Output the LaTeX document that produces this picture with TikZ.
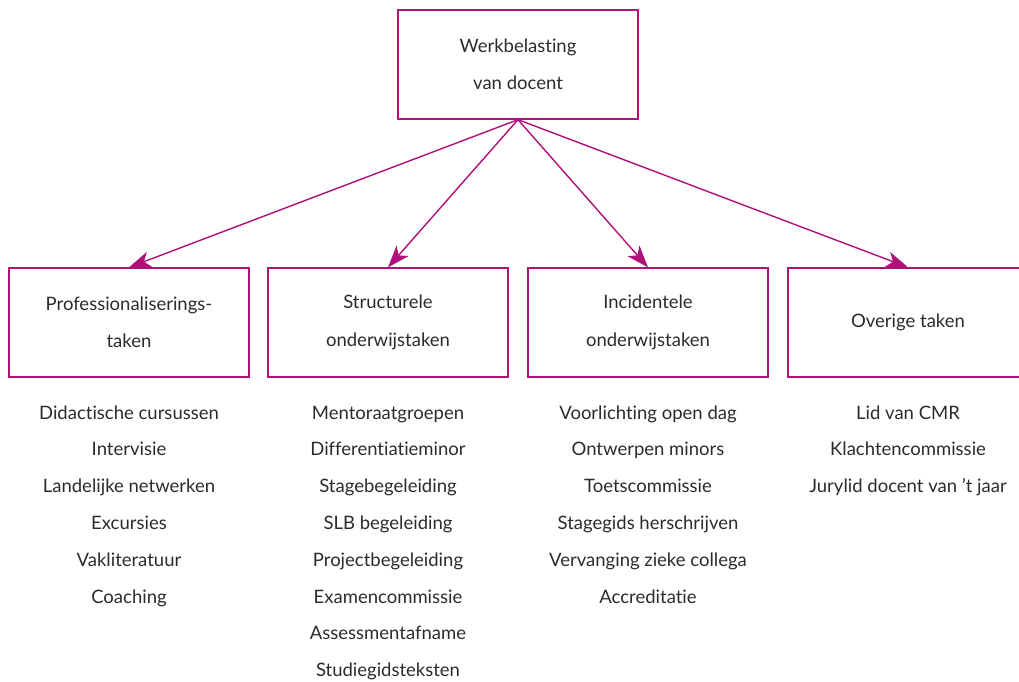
\documentclass[tikz,border=0pt]{standalone}
\usepackage{fontspec}
\setmainfont[Ligatures=NoCommon]{Lato}
\usetikzlibrary{arrows.meta}
\definecolor{mag}{HTML}{B0107A}
\definecolor{txt}{HTML}{2B2B2B}
\begin{document}
\begin{tikzpicture}[x=1pt,y=-1pt,
  box/.style={draw=mag,line width=1.3pt,minimum width=240pt,minimum height=109pt,inner sep=0pt},
  lbl/.style={text=txt,font=\fontsize{18.5}{37.5}\selectfont,align=center},
  item/.style={text=txt,font=\fontsize{18.5}{20}\selectfont,anchor=base},
  arr/.style={draw=mag,line width=1.4pt,-{Stealth[length=22pt,width=16pt,inset=6pt]}}]
\useasboundingbox (0,0) rectangle (1019,682);
\clip (0,0) rectangle (1019,682);
\node[box] (top) at (518,64.5) {};
\node[lbl] at (top) {Werkbelasting\\van docent};
\node[box] (b1) at (129,322.5) {};
\node[box] (b2) at (388,322.5) {};
\node[box] (b3) at (648,322.5) {};
\node[box] (b4) at (908,322.5) {};
\node[lbl] at (b1) {Professionaliserings-\\taken};
\node[lbl] at (b2) {Structurele\\onderwijstaken};
\node[lbl] at (b3) {Incidentele\\onderwijstaken};
\node[lbl] at (b4) {Overige taken};
\coordinate (src) at (top.south);
\draw[arr] (src) -- (b1.north);
\draw[arr] (src) -- (b2.north);
\draw[arr] (src) -- (b3.north);
\draw[arr] (src) -- (b4.north);
\foreach \col/\list in {129/{Didactische cursussen,Intervisie,Landelijke netwerken,Excursies,Vakliteratuur,Coaching},
  388/{Mentoraatgroepen,Differentiatieminor,Stagebegeleiding,SLB begeleiding,Projectbegeleiding,Examencommissie,Assessmentafname,Studiegidsteksten},
  648/{Voorlichting open dag,Ontwerpen minors,Toetscommissie,Stagegids herschrijven,Vervanging zieke collega,Accreditatie},
  908/{Lid van CMR,Klachtencommissie,Jurylid docent van ’t jaar}}{
  \foreach \t [count=\i from 0] in \list {
    \node[item] (it-\col-\i) at (\col, 419+36.8*\i) {\t};
  }
}
\end{tikzpicture}
\end{document}
